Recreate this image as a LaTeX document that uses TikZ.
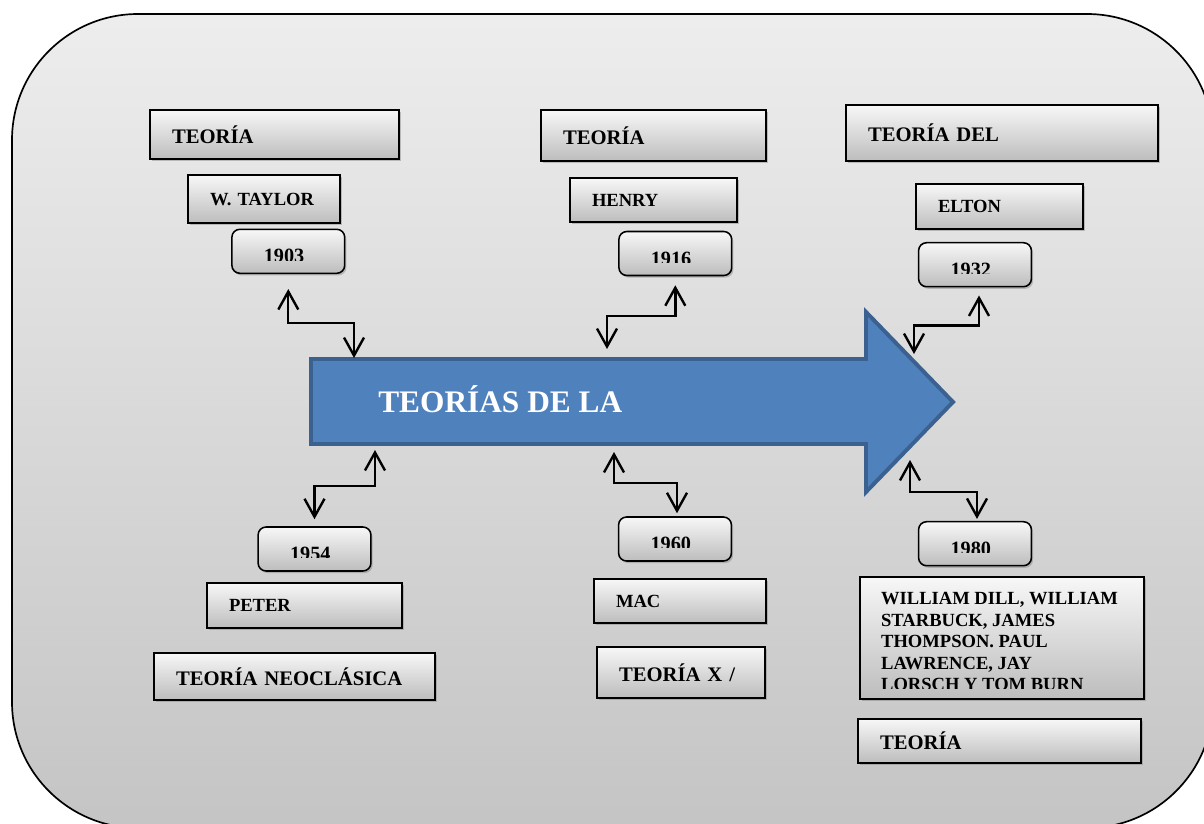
\documentclass[tikz,border=0pt]{standalone}
\usepackage{fontspec}
\setmainfont{Liberation Serif}
\usetikzlibrary{arrows.meta,shadows,calc}

\definecolor{arrowfill}{HTML}{4F81BD}
\definecolor{arrowedge}{HTML}{3A6190}

\tikzset{
    card/.style={draw, line width=1.1pt, top color=black!3, bottom color=black!26,
        drop shadow={shadow xshift=1.2pt, shadow yshift=-1.5pt, opacity=.45},
        inner xsep=5.5mm, inner ysep=0pt, align=left,
        font=\bfseries\fontsize{13.2}{15.2}\selectfont},
    title/.style={card, font=\bfseries\fontsize{14.7}{17}\selectfont},
    cliptext/.style={anchor=#1, inner sep=0pt, minimum width=0pt, minimum height=0pt, text width=},
    yearbox/.style={card, rounded corners=2mm, minimum width=2.82cm, minimum height=1.1cm,
        path picture={
            \clip ([yshift=3.3mm]path picture bounding box.south west) rectangle (path picture bounding box.north east);
            \node[cliptext=base west, font=\bfseries\fontsize{14.4}{16}\selectfont]
                at ([xshift=7.8mm, yshift=2.6mm]path picture bounding box.south west) {#1};
        }},
    link/.style={line width=1.7pt, {Straight Barb[length=4.5mm,width=5mm]}-{Straight Barb[length=4.5mm,width=5mm]}}
}

\begin{document}
\begin{tikzpicture}[x=0.025cm, y=-0.025cm]
    \useasboundingbox (0,0) rectangle (1204,823);
    \clip (0,0) rectangle (1204,823);
    \draw[line width=1.2pt, rounded corners=3.15cm, top color=black!7, bottom color=black!23] (12,14) rectangle (1213,828);

    \draw[line width=2.8pt, draw=arrowedge, fill=arrowfill] (311,359) -- (866,359) -- (866,312) -- (953,402) -- (866,492) -- (866,444) -- (311,444) -- cycle;
    \node[anchor=base west, inner sep=0pt, text=white, font=\bfseries\fontsize{22.3}{26}\selectfont] (tema) at (378,412) {TEORÍAS DE LA};

    \foreach \n/\x/\y/\w/\h/\t in {cientifica/274.5/134.5/249/49/TEORÍA,
        clasica/653.5/135.5/225/51/TEORÍA,
        relaciones/1002/133/312/56/TEORÍA DEL,
        neoclasica/294.5/676.5/281/47/TEORÍA NEOCLÁSICA,
        xy/681/672.5/168/51/{TEORÍA X /},
        contingencia/999.5/741/283/44/TEORÍA}{
        \pgfmathsetmacro\tw{\w*0.025-1.1}
        \node[title, minimum width=\w*0.025cm, minimum height=\h*0.025cm, text width=\tw cm] (\n) at (\x,\y) {\t};
    }
    \foreach \n/\x/\y/\w/\h/\t in {taylor/264/199/152/48/W. TAYLOR,
        henry/653.5/200/167/44/HENRY,
        elton/999.5/206.5/167/45/ELTON,
        peter/304.5/605.5/195/45/PETER,
        mac/680/601/172/44/MAC}{
        \pgfmathsetmacro\tw{\w*0.025-1.1}
        \node[card, minimum width=\w*0.025cm, minimum height=\h*0.025cm, text width=\tw cm] (\n) at (\x,\y) {\t};
    }
    \node[card, minimum width=7.1cm, minimum height=3.06cm, path picture={
            \clip ([yshift=2.7mm]path picture bounding box.south west) rectangle (path picture bounding box.north east);
            \node[cliptext=north west, align=left, font=\bfseries\fontsize{13.2}{15.3}\selectfont]
                at ([xshift=5.1mm, yshift=-3.75mm]path picture bounding box.north west)
                {WILLIAM DILL, WILLIAM\\STARBUCK, JAMES\\THOMPSON. PAUL\\LAWRENCE, JAY\\LORSCH Y TOM BURN};
        }] (autores) at (1002,638) {};

    \foreach \yr/\x/\y in {1903/288.3/251.3, 1916/675.3/253.5, 1932/975/264.7,
        1954/314.5/549, 1960/675/539, 1980/975/543.7}
        \node[yearbox=\yr] (y\yr) at (\x,\y) {};

    \coordinate (t1) at (354,358);
    \coordinate (t2) at (607,349);
    \coordinate (t3) at (914,354);
    \coordinate (b1) at (375,450);
    \coordinate (b2) at (614,452);
    \coordinate (b3) at (910,460);
    \draw[link] ($(y1903.south)+(0,15)$) -- ++(0,34) -| (t1);
    \draw[link] ($(y1916.south)+(0,9)$) -- ++(0,31) -| (t2);
    \draw[link] ($(y1932.south)+(4,8)$) -- ++(0,30) -| (t3);
    \draw[link] (b1) -- ++(0,36) -| ($(y1954.north)+(0,-7)$);
    \draw[link] (b2) -- ++(0,31) -| ($(y1960.north)+(2,-3)$);
    \draw[link] (b3) -- ++(0,32) -| ($(y1980.north)+(2,-2)$);
\end{tikzpicture}
\end{document}
